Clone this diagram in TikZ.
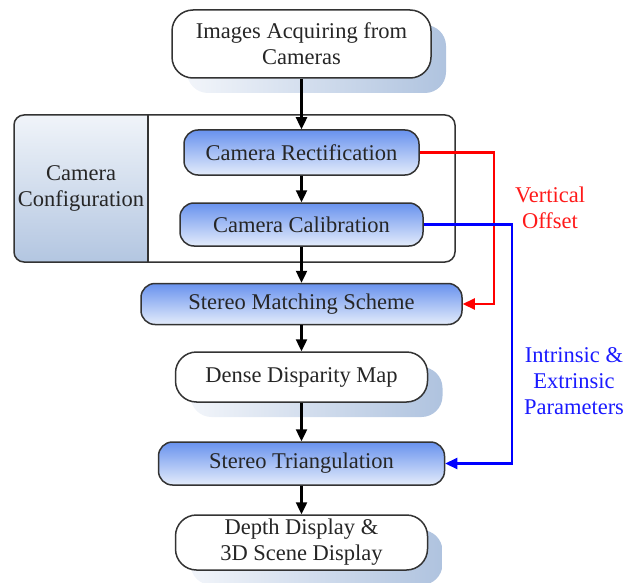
\documentclass[tikz,border=0pt]{standalone}
\usepackage{fontspec}
\setmainfont{Liberation Serif}
\usetikzlibrary{arrows.meta,shadows}
\definecolor{ink}{HTML}{262626}
\definecolor{boxline}{HTML}{333333}
\definecolor{shL}{HTML}{F2F5FA}
\definecolor{shR}{HTML}{AFC3DF}
\definecolor{blueT}{HTML}{6892EE}
\definecolor{blueB}{HTML}{E4ECFB}
\definecolor{cfgT}{HTML}{F0F4F9}
\definecolor{cfgB}{HTML}{B3C6E1}
\definecolor{offred}{HTML}{FF1A1A}
\definecolor{parblue}{HTML}{1A1AFF}
\begin{document}
\begin{tikzpicture}[x=1pt,y=-1pt,
  font=\fontsize{22.5}{26}\selectfont,
  boxbase/.style={draw=boxline, line width=1.5pt, align=center, text=ink, inner sep=0pt},
  plainbox/.style={boxbase, fill=white, rounded corners=21pt,
    general shadow={shadow xshift=15pt, shadow yshift=-15pt, left color=shL, right color=shR}},
  bluebox/.style={boxbase, top color=blueT, bottom color=blueB, rounded corners=14pt},
  flow/.style={-{Triangle[length=12pt,width=11pt]}, line width=2.4pt},
  feed/.style={-{Triangle[length=12pt,width=11pt]}, line width=2.2pt}
]
\useasboundingbox (0,0) rectangle (634,583);

% camera configuration frame: shaded label panel, outline, divider
\shade[top color=cfgT, bottom color=cfgB]
  (148,262) -- (148,115) [rounded corners=10pt] -- (14,115) -- (14,262) [sharp corners] -- cycle;
\node[draw=boxline, line width=1.5pt, rounded corners=10pt, minimum width=441pt,
      minimum height=147pt, inner sep=0pt] (cfg) at (234.5,188.5) {};
\coordinate (divtop) at (148,115);
\coordinate (divbot) at (148,262);
\draw[boxline, line width=1.5pt] (divtop) -- (divbot);
\node[text=ink, align=center] (cfglabel) at (81,188) {Camera\\Configuration};

% processing steps
\node[plainbox, minimum width=259pt, minimum height=68pt] (acq) at (301.5,44) {Images Acquiring from\\Cameras};
\node[bluebox, minimum width=235pt, minimum height=45pt] (rect) at (301.5,152.5) {Camera Rectification};
\node[bluebox, minimum width=243pt, minimum height=43pt] (calib) at (301.5,224.5) {Camera Calibration};
\node[bluebox, minimum width=321pt, minimum height=41pt] (match) at (301.5,304) {Stereo Matching Scheme};
\node[plainbox, minimum width=252pt, minimum height=50pt] (dense) at (301.5,377) {Dense Disparity Map};
\node[bluebox, minimum width=286pt, minimum height=43pt] (tri) at (301.5,463.5) {Stereo Triangulation};
\node[plainbox, minimum width=252pt, minimum height=55pt] (depth) at (301.5,542.5) {Depth Display \&\\3D Scene Display};

% main flow
\draw[flow] (acq) -- (rect);
\draw[flow] (rect) -- (calib);
\draw[flow] (calib) -- (match);
\draw[flow] (match) -- (dense);
\draw[flow] (dense) -- (tri);
\draw[flow] (tri) -- (depth);

% side feeds
\draw[feed, color=red] (rect.east) -- ++(74,0) |- (match.east);
\draw[feed, color=blue] (calib.east) -- ++(88,0) |- (tri.east);
\node[text=offred, align=center] (voff) at (550,208) {Vertical\\Offset};
\node[text=parblue, align=center] (ipar) at (574,381) {Intrinsic \&\\Extrinsic\\Parameters};
\end{tikzpicture}
\end{document}
